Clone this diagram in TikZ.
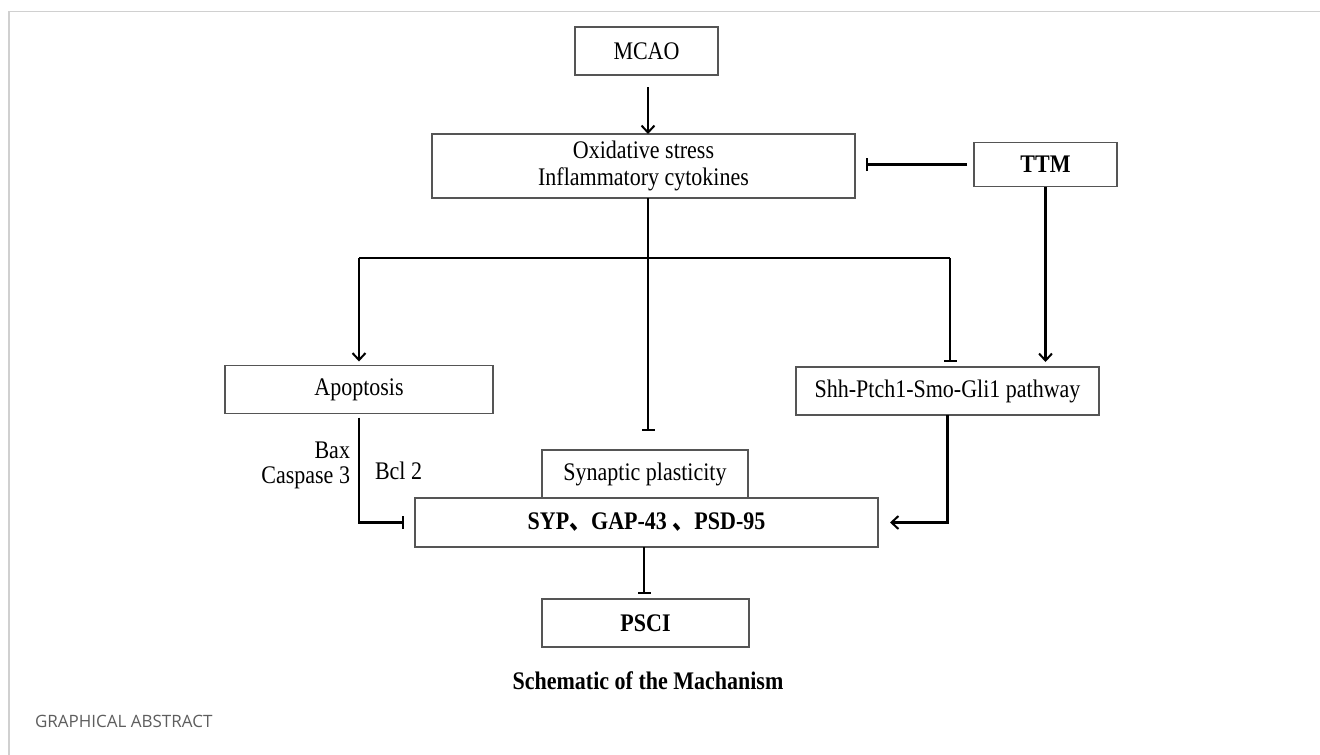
\documentclass[tikz,border=0pt]{standalone}
\usepackage{fontspec}
\usepackage{graphicx}
\setmainfont{Liberation Serif}
\newfontfamily\cjkfont{Noto Sans CJK SC}
\newfontfamily\capfont{Open Sans}
\usetikzlibrary{arrows.meta,calc}
\definecolor{boxgray}{HTML}{555555}
\definecolor{framegray}{HTML}{D0D0D0}
\definecolor{capgray}{HTML}{5E5E5E}
\newcommand{\dun}{{\cjkfont 、}}
\newcommand{\vs}[1]{\scalebox{1}[1.15]{#1}}
\begin{document}
\begin{tikzpicture}[x=1pt,y=-1pt,
  every node/.style={inner sep=0pt,outer sep=0pt},
  box/.style={draw=boxgray,line width=1.1pt,rectangle,align=center,font=\fontsize{22}{26}\selectfont},
  lbl/.style={font=\fontsize{22}{26}\selectfont},
  conn/.style={line width=2.1pt,black},
  arr/.style={conn,-{Straight Barb[length=7pt,width=13pt,line width=2pt]}},
  inh/.style={conn,-{Bar[width=13pt,line width=2.1pt]}}]
\useasboundingbox (0,0) rectangle (1320,755);
\fill[white] (0,0) rectangle (1320,755);
% frame
\draw[framegray,line width=1.2pt] (9,755) -- (9,11.5) -- (1320,11.5);
% nodes
\node[box,minimum width=143pt,minimum height=48pt] (mcao) at (646.5,51) {\vs{MCAO}};
\node[box,minimum width=423pt,minimum height=64pt] (oxi) at (643.5,166) {\vs{Oxidative stress}\\[1pt]\vs{Inflammatory cytokines}};
\node[box,minimum width=143pt,minimum height=44pt,font=\fontsize{22}{26}\selectfont\bfseries] (ttm) at (1045.5,164.5) {\vs{TTM}};
\node[box,minimum width=268pt,minimum height=48pt] (apop) at (359,389.5) {\vs{Apoptosis}};
\node[box,minimum width=303pt,minimum height=48pt] (shh) at (947.5,391) {\vs{Shh-Ptch1-Smo-Gli1 pathway}};
\node[box,minimum width=206pt,minimum height=48pt] (syn) at (645,474) {\vs{Synaptic plasticity}};
\node[box,minimum width=463pt,minimum height=49pt,fill=white,font=\fontsize{22}{26}\selectfont\bfseries] (syp) at (646.5,522.5) {\vs{SYP\dun GAP-43 \dun PSD-95}};
\node[box,minimum width=207pt,minimum height=48pt,font=\fontsize{22}{26}\selectfont\bfseries] (psci) at (645.5,623) {\vs{PSCI}};
% labels
\node[lbl,anchor=east] (bax) at (350,450) {\vs{Bax}};
\node[lbl,anchor=east] (casp) at (350,478) {\vs{Caspase 3}};
\node[lbl,anchor=west] (bcl) at (375,471) {\vs{Bcl 2}};
\node[font=\fontsize{22}{26}\selectfont\bfseries] (title) at (648,681) {\vs{Schematic of the Machanism}};
\node[font=\capfont\fontsize{17}{20}\selectfont,text=capgray,anchor=west] (cap) at (35,721) {GRAPHICAL ABSTRACT};
% junctions
\coordinate (j) at (648,258);
\coordinate (jl) at (359,258);
\coordinate (jr) at (950,258);
% connectors
\draw[arr,shorten <=12pt] (mcao.south -| j) -- (oxi.north -| j);
\draw[inh,shorten <=7pt,shorten >=11pt] (ttm.west) -- (ttm.west -| oxi.east);
\draw[conn] (oxi.south -| j) -- (j);
\draw[inh,shorten >=19pt] (j) -- (j |- syn.north);
\draw[conn] (jl) -- (jr);
\draw[arr,shorten >=4pt] (jl) -- (jl |- apop.north);
\draw[inh,shorten >=5pt] (jr) -- (jr |- shh.north);
\draw[arr,shorten >=5pt] (ttm.south) -- (ttm.south |- shh.north);
\draw[inh,shorten <=4pt,shorten >=11pt] (apop.south) |- (syp.west);
\draw[arr,shorten >=12pt] (shh.south) |- (syp.east);
\draw[inh,shorten >=5pt] (syp.south -| 644,0) -- (psci.north -| 644,0);
\end{tikzpicture}
\end{document}
